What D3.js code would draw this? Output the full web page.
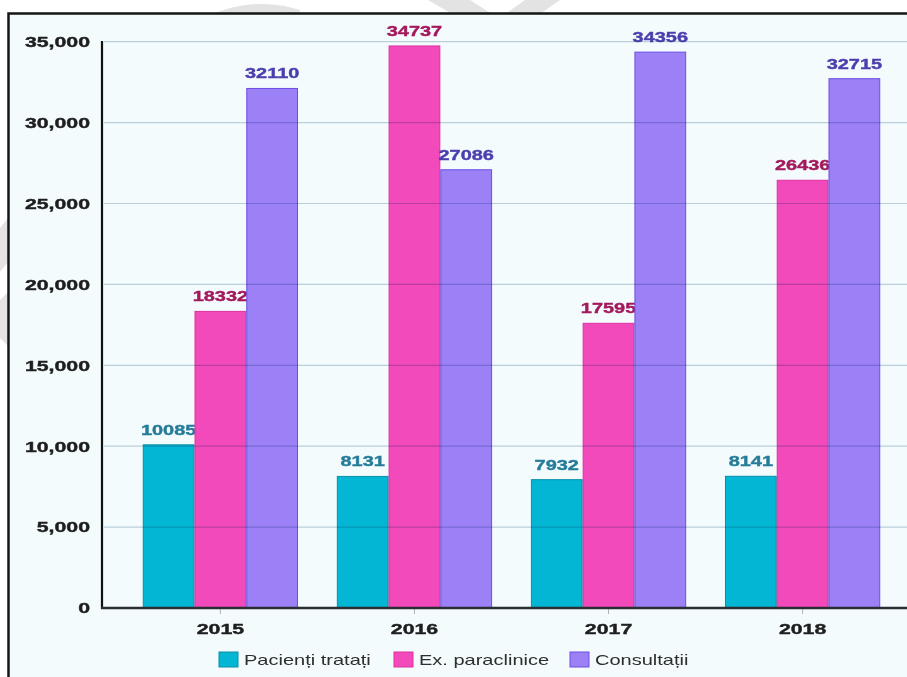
<!DOCTYPE html>
<html>
<head>
<meta charset="utf-8">
<script src="https://cdn.jsdelivr.net/npm/d3@7"></script>
<style>
  html, body { margin: 0; padding: 0; background: #fff; }
  svg { display: block; font-family: "Liberation Sans", Arial, sans-serif; }
</style>
</head>
<body>
<div id="chart"></div>
<script>
// chart data
const years = ['2015', '2016', '2017', '2018'];
const seriesNames = ['Pacienți tratați', 'Ex. paraclinice', 'Consultații'];
const pacienti = [10085, 8131, 7932, 8141];
const paraclinice = [18332, 34737, 17595, 26436];
const consultatii = [32110, 27086, 34356, 32715];
const yTicks = [0, 5000, 10000, 15000, 20000, 25000, 30000, 35000];

const W = 907, H = 677;
// the source picture is stretched sideways, so text gets a horizontal scale
const SX = 1.42;

const series = [
  { name: seriesNames[0], values: pacienti, fill: '#03b6d4', stroke: '#0a8fab', label: '#257c99' },
  { name: seriesNames[1], values: paraclinice, fill: '#f24abb', stroke: '#e0309f', label: '#a3195b' },
  { name: seriesNames[2], values: consultatii, fill: '#9b80f6', stroke: '#6c4fe2', label: '#4a3fae' }
];

const svg = d3.select('#chart').append('svg')
  .attr('width', W).attr('height', H);

// faint watermark pieces outside the frame
const wm = svg.append('g').attr('fill', '#e3e3e3');
wm.append('path').attr('d', 'M212,14 Q258,-4 300,10 L300,14 Z');
wm.append('path').attr('d', 'M428,0 L470,0 L492,14 L452,14 Z');
wm.append('path').attr('d', 'M525,0 L560,0 L540,14 L505,14 Z');
wm.append('path').attr('d', 'M0,228 L8,218 L8,262 L0,272 Z');
wm.append('path').attr('d', 'M0,300 L8,292 L8,346 L0,338 Z');

// frame with pale background
svg.append('rect')
  .attr('x', 8.5).attr('y', 13.5)
  .attr('width', 1000).attr('height', 1000)
  .attr('fill', '#f3fbfd')
  .attr('stroke', '#151515')
  .attr('stroke-width', 2.5);

const x0 = d3.scaleBand().domain(years)
  .range([102, 921]).paddingInner(0.2).paddingOuter(0.21);
const x1 = d3.scaleBand().domain(seriesNames)
  .range([0, x0.bandwidth()]);
const y = d3.scaleLinear().domain([0, 35000]).range([608, 41.7]);

// bars and value labels, one layer per series so later bars cover labels
series.forEach(s => {
  const g = svg.append('g');
  g.selectAll('rect')
    .data(years.map((yr, i) => ({ yr, v: s.values[i] })))
    .join('rect')
    .attr('x', d => x0(d.yr) + x1(s.name) + 0.5)
    .attr('y', d => y(d.v))
    .attr('width', x1.bandwidth() - 1)
    .attr('height', d => y(0) - y(d.v))
    .attr('fill', s.fill)
    .attr('stroke', s.stroke)
    .attr('stroke-width', 1);

  g.selectAll('text')
    .data(years.map((yr, i) => ({ yr, v: s.values[i] })))
    .join('text')
    .attr('transform', d => `translate(${x0(d.yr) + x1(s.name) + x1.bandwidth() / 2},${y(d.v) - 10}) scale(1.33,1)`)
    .attr('text-anchor', 'middle')
    .attr('font-size', '15px')
    .attr('font-weight', 'bold')
    .attr('fill', s.label)
    .attr('stroke', s.label)
    .attr('stroke-width', 0.4)
    .text(d => d.v);
});

// gridlines drawn over the bars
svg.append('g')
  .style('mix-blend-mode', 'multiply')
  .selectAll('line')
  .data(yTicks.filter(d => d > 0))
  .join('line')
  .attr('x1', 104).attr('x2', W)
  .attr('y1', d => y(d)).attr('y2', d => y(d))
  .attr('stroke', '#c3d3dc')
  .attr('stroke-width', 1.2);

// y axis
svg.append('g')
  .attr('transform', 'translate(102,0)')
  .call(d3.axisLeft(y).tickValues(yTicks).tickSize(0).tickPadding(0).tickFormat(d3.format(',')))
  .call(g => g.select('.domain').remove())
  .call(g => g.selectAll('text')
    .attr('x', -12 / SX)
    .attr('transform', `scale(${SX},1)`)
    .attr('font-size', '15px')
    .attr('font-weight', 'bold')
    .attr('fill', '#1e1e1e')
    .attr('stroke', '#1e1e1e')
    .attr('stroke-width', 0.4)
    .attr('font-family', null));

svg.append('line')
  .attr('x1', 102).attr('x2', 102)
  .attr('y1', 41).attr('y2', 609)
  .attr('stroke', '#111').attr('stroke-width', 2.2);

// x axis
svg.append('g')
  .attr('transform', 'translate(0,608)')
  .call(d3.axisBottom(x0).tickSize(6).tickPadding(9))
  .call(g => g.select('.domain').remove())
  .call(g => g.selectAll('line').attr('stroke', '#a8b4ba'))
  .call(g => g.selectAll('text')
    .attr('transform', `scale(${SX},1)`)
    .attr('font-size', '15px')
    .attr('font-weight', 'bold')
    .attr('fill', '#1e1e1e')
    .attr('stroke', '#1e1e1e')
    .attr('stroke-width', 0.4)
    .attr('font-family', null));

svg.append('line')
  .attr('x1', 101).attr('x2', W)
  .attr('y1', 608).attr('y2', 608)
  .attr('stroke', '#2a2d33').attr('stroke-width', 2.4);

// legend
const legendX = [219, 394, 570];
const legend = svg.append('g')
  .selectAll('g')
  .data(series)
  .join('g')
  .attr('transform', (d, i) => `translate(${legendX[i]},652)`);

legend.append('rect')
  .attr('width', 19).attr('height', 15)
  .attr('fill', d => d.fill)
  .attr('stroke', d => d.stroke)
  .attr('stroke-width', 1);

legend.append('text')
  .attr('transform', `translate(25,13) scale(1.38,1)`)
  .attr('font-size', '14.5px')
  .attr('fill', '#2e2e2e')
  .text(d => d.name);
</script>
</body>
</html>
